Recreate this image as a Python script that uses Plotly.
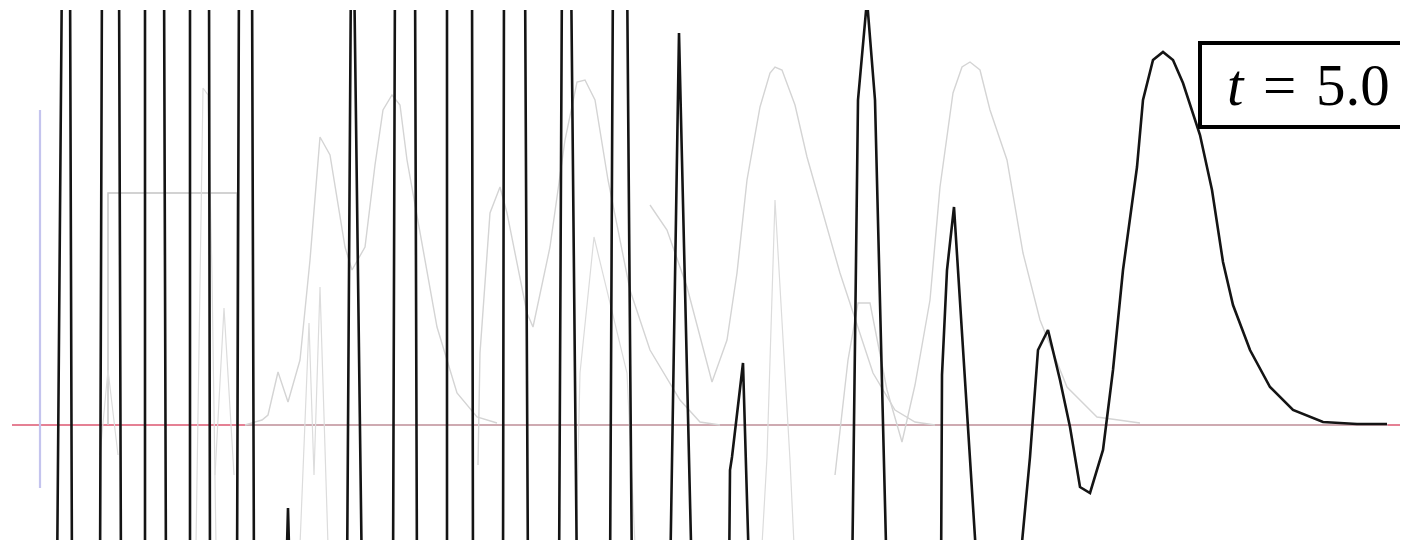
import plotly.graph_objects as go

# ---------------- data (x in pixel-like units, y in wave units) ----------------
T, B = 4.6, -1.6   # off-frame extremes of the spikes

psi_x = [57, 62, 70, 72, 100, 102, 119, 121, 145, 145, 164, 166, 190, 190, 209, 210,
         237, 239, 252, 254, 286, 288, 290, 347, 351, 354, 362, 393, 395, 415, 417,
         447, 447, 472, 473, 503, 504, 525, 528, 559, 562, 571, 577, 610, 613, 627, 632,
         670, 679, 692, 729, 730, 732, 743, 749.5, 852, 858, 867, 875, 887,
         941, 942, 947, 954, 978, 1018, 1030, 1038, 1048, 1060, 1070, 1080, 1090, 1103,
         1113, 1123, 1137, 1143, 1153, 1163, 1173, 1183, 1200, 1212, 1223, 1233, 1250,
         1270, 1293, 1323, 1357, 1387]
psi_y = [B, T, T, B, B, T, T, B, B, T, T, B, B, T, T, B,
         B, T, T, B, B, -0.83, B, B, T, T, B, B, T, T, B,
         B, T, T, B, B, T, T, B, B, T, T, B, B, T, T, B,
         B, 3.92, B, B, -0.45, -0.32, 0.62, B, B, 3.25, 4.25, 3.25, B,
         B, 0.5, 1.55, 2.18, B, B, -0.32, 0.75, 0.95, 0.45, -0.02, -0.62, -0.68, -0.25,
         0.55, 1.55, 2.58, 3.25, 3.65, 3.73, 3.65, 3.42, 2.9, 2.35, 1.63, 1.2, 0.75,
         0.38, 0.15, 0.03, 0.01, 0.01]

ghost_a_x = [245, 262, 268, 278, 288, 300, 310, 320, 330, 345, 352, 365, 375, 383, 392,
             400, 407, 415, 423, 437, 457, 477, 497]
ghost_a_y = [0.0, 0.05, 0.1, 0.53, 0.23, 0.65, 1.65, 2.88, 2.7, 1.78, 1.55, 1.78, 2.6,
             3.15, 3.3, 3.2, 2.65, 2.2, 1.78, 0.98, 0.32, 0.08, 0.02]

ghost_c_x = [478, 480, 490, 500, 507, 527, 533, 550, 565, 577, 585, 595, 608, 630, 650,
             680, 700, 720]
ghost_c_y = [-0.4, 0.72, 2.12, 2.38, 2.12, 1.12, 0.98, 1.78, 2.85, 3.43, 3.45, 3.25,
             2.45, 1.35, 0.75, 0.25, 0.03, 0.0]

ghost_d_x = [650, 667, 687, 700, 712, 727, 737, 747, 760, 770, 775, 782, 795, 807, 840,
             873, 895, 915, 935]
ghost_d_y = [2.2, 1.95, 1.38, 0.9, 0.43, 0.85, 1.52, 2.45, 3.18, 3.52, 3.58, 3.55, 3.2,
             2.68, 1.52, 0.52, 0.15, 0.03, 0.0]

ghost_b_x = [835, 848, 858, 870, 887, 902, 915, 930, 940, 953, 962, 970, 980, 990, 1007,
             1023, 1040, 1067, 1097, 1140]
ghost_b_y = [-0.5, 0.65, 1.22, 1.22, 0.35, -0.17, 0.4, 1.25, 2.38, 3.32, 3.58, 3.63,
             3.55, 3.15, 2.65, 1.72, 1.05, 0.38, 0.08, 0.02]

spike_x = [[576, 580, 594, 617, 627, 635],
           [762, 767, 775, 790, 794],
           [196, 203, 208, 212, 216],
           [215, 224, 234],
           [100, 108, 118],
           [300, 309, 314, 320, 328]]
spike_y = [[-1.2, 0.52, 1.88, 0.95, 0.52, -1.2],
           [-1.2, -0.32, 2.25, -0.35, -1.2],
           [-1.2, 3.37, 3.3, 1.5, -1.2],
           [-0.5, 1.17, -0.5],
           [-0.3, 0.55, -0.3],
           [-1.2, 1.02, -0.5, 1.38, -1.2]]

box_x = [108, 108, 237, 237]
box_y = [0.0, 2.32, 2.32, 0.0]

wall_x = [40, 40]
wall_y = [3.15, -0.63]

axis_x = [12, 1408]
axis_gray_x = [245, 1388]

label = "<i>t</i> \u200a= \u200a5.0"

# ---------------- figure ----------------
fig = go.Figure()

fig.add_trace(go.Scatter(x=axis_x, y=[0, 0], mode="lines",
                         line=dict(color="#dc5670", width=1.5)))
fig.add_trace(go.Scatter(x=axis_gray_x, y=[0, 0], mode="lines",
                         line=dict(color="#c6b8bb", width=1.5)))
fig.add_trace(go.Scatter(x=wall_x, y=wall_y, mode="lines",
                         line=dict(color="#c4c4ee", width=2.2)))
fig.add_trace(go.Scatter(x=box_x, y=box_y, mode="lines",
                         line=dict(color="#c4c4c4", width=1.5)))

for gx, gy in [(ghost_a_x, ghost_a_y), (ghost_c_x, ghost_c_y),
               (ghost_d_x, ghost_d_y), (ghost_b_x, ghost_b_y)]:
    fig.add_trace(go.Scatter(x=gx, y=gy, mode="lines",
                             line=dict(color="#d4d4d4", width=1.4)))
for sx, sy in zip(spike_x, spike_y):
    fig.add_trace(go.Scatter(x=sx, y=sy, mode="lines",
                             line=dict(color="#dcdcdc", width=1.2)))

fig.add_trace(go.Scatter(x=psi_x, y=psi_y, mode="lines",
                         line=dict(color="#141414", width=2.6)))

fig.add_shape(type="rect", xref="x", yref="y", x0=1200, x1=1440, y0=2.98, y1=3.82,
              line=dict(color="black", width=4), fillcolor="white", layer="above")
fig.add_annotation(x=1308, y=3.40, xref="x", yref="y", text=label, showarrow=False,
                   font=dict(family="Liberation Serif", size=59, color="black"),
                   xanchor="center", yanchor="middle")

# the page body adds an 8 px offset; the ranges absorb it so data units stay pixel-aligned
fig.update_layout(
    width=1408, height=532,
    margin=dict(l=0, r=0, t=2, b=0),
    paper_bgcolor="white", plot_bgcolor="white",
    showlegend=False,
    xaxis=dict(range=[8, 1416], visible=False, fixedrange=True),
    yaxis=dict(range=[-1.15, 4.15], visible=False, fixedrange=True),
)

fig.write_html("out.html", config={"displayModeBar": False})
